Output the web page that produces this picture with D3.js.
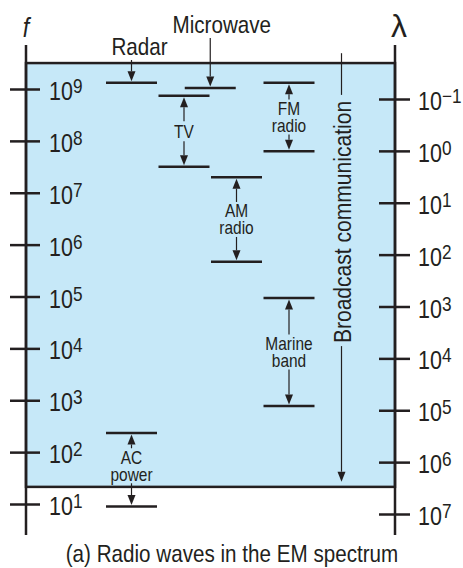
<!DOCTYPE html>
<html>
<head>
<meta charset="utf-8">
<script src="https://cdn.jsdelivr.net/npm/d3@7"></script>
<style>
  body { margin: 0; background: #fff; }
  text { font-family: "Liberation Sans", Arial, Helvetica, sans-serif; fill: #231f20; }
</style>
</head>
<body>
<svg id="chart" width="463" height="568"></svg>
<script>
// exponents of the tick values (10^n)
const fExp = [1, 2, 3, 4, 5, 6, 7, 8, 9];
const lambdaExp = [-1, 0, 1, 2, 3, 4, 5, 6, 7];

// bands, edges given as log10(f)
const bandNames = ["Radar", "Microwave", "TV", "AM radio", "FM radio", "Marine band", "AC power"];
const bandTop = [9.12, 9.02, 8.87, 7.30, 9.12, 4.97, 2.37];
const bandBottom = [null, null, 7.50, 5.67, 7.80, 2.89, 0.95];

const broadcastName = "Broadcast communication";
const broadcastRange = [9.69, 1.43];

// shaded radio region, log10(f)
const regionRange = [9.5, 1.33];

const caption = "(a) Radio waves in the EM spectrum";

const svg = d3.select("#chart");
const ink = "#231f20", sky = "#c6e8f8";
const sx = 0.86; // condensed look

// scales
const y = d3.scaleLog().domain([1e1, 1e9]).range([504, 89]);
const yL = d3.scaleLog().domain([1e-1, 1e7]).range([99, 514]);
const p = e => y(Math.pow(10, e));
const col = d3.scaleLinear().domain([0, 4]).range([106, 316]);
const bandCol = [0, 1.5, 1, 2, 3, 3, 0];
const labelShift = [0, 0, 0, 0, 0, 0, -4];
const bw = 51;
const xL = 26, xR = 395;

// text helper, squeezed horizontally
function label(parent, x, yy, size, anchor, extra) {
  return parent.append("g")
    .attr("transform", `translate(${x},${yy}) ${extra || ""} scale(${sx},1)`)
    .append("text")
    .attr("text-anchor", anchor)
    .attr("font-size", size);
}

// shaded region
svg.append("rect")
  .attr("x", xL).attr("y", p(regionRange[0]))
  .attr("width", xR - xL).attr("height", p(regionRange[1]) - p(regionRange[0]))
  .attr("fill", sky).attr("stroke", ink).attr("stroke-width", 2.5);

// axis lines
[xL, xR].forEach(x => {
  svg.append("line")
    .attr("x1", x).attr("x2", x).attr("y1", 45).attr("y2", 535)
    .attr("stroke", ink).attr("stroke-width", 2.5);
});

function powLabel(sel, exp) {
  const t = label(sel, 23, 10.5, 25, "start");
  t.append("tspan").text("10");
  t.append("tspan").attr("font-size", 20).attr("dy", -7)
    .text(String(exp).replace("-", "\u2212"));
}

// frequency axis
const gf = svg.append("g").attr("transform", `translate(${xL},0)`)
  .call(d3.axisLeft(y).tickValues(fExp.map(e => Math.pow(10, e))).tickFormat(""));
gf.select(".domain").remove();
gf.selectAll(".tick line").attr("x1", -16).attr("x2", 14)
  .attr("stroke", ink).attr("stroke-width", 2.5);
gf.selectAll(".tick").each(function(d) {
  powLabel(d3.select(this), Math.round(Math.log10(d)));
});

// wavelength axis
const gl = svg.append("g").attr("transform", `translate(${xR},0)`)
  .call(d3.axisRight(yL).tickValues(lambdaExp.map(e => Math.pow(10, e))).tickFormat(""));
gl.select(".domain").remove();
gl.selectAll(".tick line").attr("x1", -16).attr("x2", 15)
  .attr("stroke", ink).attr("stroke-width", 2.5);
gl.selectAll(".tick").each(function(d) {
  powLabel(d3.select(this), Math.round(Math.log10(d)));
});

// axis symbols
label(svg, 26, 37, 27, "middle").attr("font-style", "italic").text("f");
svg.append("text").attr("x", 399).attr("y", 37).attr("text-anchor", "middle")
  .attr("font-size", 32).text("\u03bb");

function arrow(x, y1, y2) {
  const dir = Math.sign(y2 - y1), hl = 10, hw = 4;
  svg.append("line")
    .attr("x1", x).attr("x2", x).attr("y1", y1).attr("y2", y2 - dir * hl)
    .attr("stroke", ink).attr("stroke-width", 1.2);
  svg.append("path")
    .attr("d", `M${x},${y2}L${x - hw},${y2 - dir * hl}L${x + hw},${y2 - dir * hl}Z`)
    .attr("fill", ink);
}

function hline(x, yy) {
  svg.append("line")
    .attr("x1", x).attr("x2", x + bw).attr("y1", yy).attr("y2", yy)
    .attr("stroke", ink).attr("stroke-width", 2.5);
}

// labels placed above single lines
const aboveLabel = { 0: { dx: 8, y: 55 }, 1: { dx: 11.5, y: 33 } };

bandNames.forEach((name, i) => {
  const x0 = col(bandCol[i]), cx = x0 + bw / 2;
  const yt = p(bandTop[i]);
  hline(x0, yt);
  if (bandBottom[i] == null) {
    const a = aboveLabel[i];
    label(svg, cx + a.dx, a.y, 24, "middle").text(name);
    arrow(cx, a.y + 5, yt - 1.5);
  } else {
    const yb = p(bandBottom[i]);
    hline(x0, yb);
    const words = name.split(" ");
    const mid = (yt + yb) / 2 + labelShift[i], lh = 17;
    const t = label(svg, cx, mid, 18, "middle");
    words.forEach((w, k) => {
      t.append("tspan").attr("x", 0)
        .attr("y", -(words.length - 1) * lh / 2 + k * lh + 6.5)
        .text(w);
    });
    const gap = words.length * 7.5 + 2.5;
    arrow(cx, mid - gap, yt + 1.5);
    arrow(cx, mid + gap, yb - 1.5);
  }
});

// broadcast communication
const bx = col(4) + bw / 2, bMid = 222;
const bt = label(svg, bx + 9, bMid, 24.5, "middle", "rotate(-90)").text(broadcastName);
const blen = bt.node().getComputedTextLength() * sx;
svg.append("line")
  .attr("x1", bx).attr("x2", bx).attr("y1", p(broadcastRange[0])).attr("y2", bMid - blen / 2 - 6)
  .attr("stroke", ink).attr("stroke-width", 1.2);
arrow(bx, bMid + blen / 2 + 3, p(broadcastRange[1]));

// caption
label(svg, 232, 562, 24, "middle").text(caption);
</script>
</body>
</html>
